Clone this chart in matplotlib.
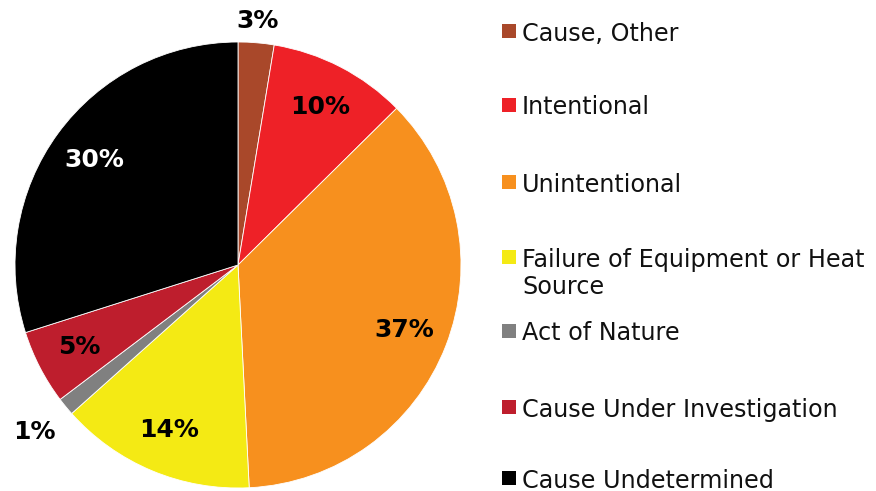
import numpy as np
import matplotlib.pyplot as plt
from matplotlib.patches import Rectangle

# causes, clockwise from 12 o'clock (percent of total)
causes = ['Cause, Other', 'Intentional', 'Unintentional',
          'Failure of Equipment or Heat\nSource', 'Act of Nature',
          'Cause Under Investigation', 'Cause Undetermined']
shares = [2.6, 10.0, 36.6, 14.2, 1.3, 5.4, 29.9]
colors = ['#A9482A', '#EE2127', '#F7901E', '#F4EA14', '#808080', '#BE1E2D', '#000000']

W, H = 876, 491
fig = plt.figure(figsize=(W / 100, H / 100), dpi=100)

# pie centre (238, 265) px, radius 223 px
cx, cy, r = 238, 265, 223
ax = fig.add_axes([(cx - r) / W, (H - cy - r) / H, 2 * r / W, 2 * r / H])
wedges, texts, autotexts = ax.pie(
    shares, colors=colors, startangle=90, counterclock=False,
    autopct='%.0f%%', pctdistance=0.8,
    wedgeprops=dict(edgecolor='white', linewidth=0.6),
    textprops=dict(fontsize=18, fontweight='bold', color='black'))
ax.set_xlim(-1, 1)
ax.set_ylim(-1, 1)
ax.set_aspect('equal')
ax.axis('off')

# small slices get their label outside the pie
outside = {0: 1.1, 4: 1.18}
for i, (w, t) in enumerate(zip(wedges, autotexts)):
    if i in outside:
        a = np.deg2rad((w.theta1 + w.theta2) / 2)
        t.set_position((outside[i] * np.cos(a), outside[i] * np.sin(a)))
    if colors[i] == '#000000':
        t.set_color('white')

# legend drawn by hand to follow the uneven spacing of the original
legend_y = [31, 105, 182, 257, 331, 407, 478]
line_h = 28
for lab, col, y in zip(causes, colors, legend_y):
    fig.patches.append(Rectangle((502 / W, 1 - (y + 7) / H), 14 / W, 14 / H,
                                 transform=fig.transFigure, facecolor=col,
                                 edgecolor='none'))
    for k, line in enumerate(lab.split('\n')):
        fig.text(522 / W, 1 - (y + k * line_h) / H, line, fontsize=17.2,
                 color='#111111', ha='left', va='center_baseline')

fig.savefig('out.png', dpi=100)
